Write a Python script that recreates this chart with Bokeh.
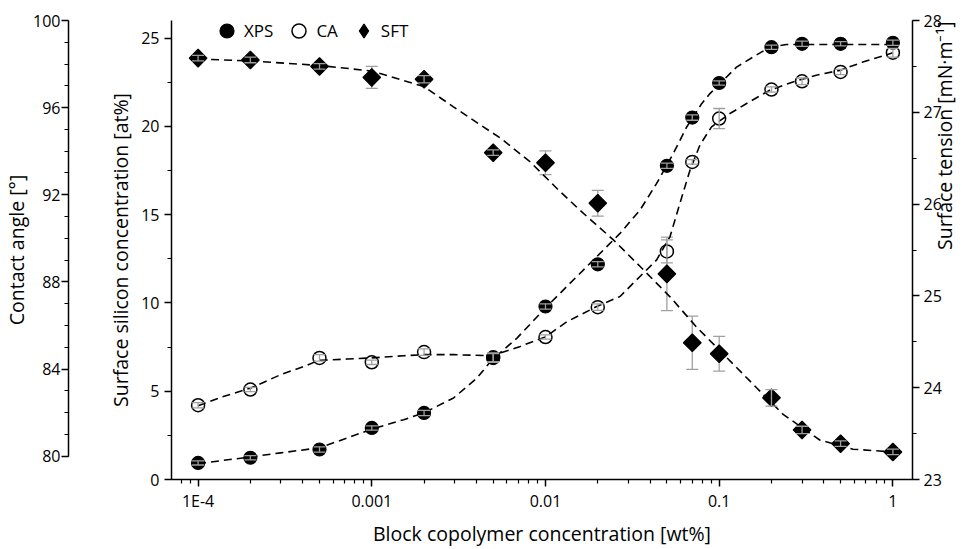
import math
from bokeh.plotting import figure
from bokeh.models import (Range1d, LinearAxis, FixedTicker, SingleIntervalTicker,
                          ColumnDataSource, Whisker, TeeHead, Legend, LegendItem)
from bokeh.embed import file_html
from bokeh.resources import INLINE

# ---------------- data ----------------
conc = [1e-4, 2e-4, 5e-4, 1e-3, 2e-3, 5e-3, 1e-2, 2e-2, 5e-2, 7e-2, 0.1, 0.2, 0.3, 0.5, 1.0]

xps = [0.94, 1.23, 1.70, 2.92, 3.77, 6.88, 9.80, 12.19, 17.77, 20.50, 22.46, 24.49, 24.68, 24.68, 24.74]
xps_err = [0.12, 0.12, 0.15, 0.12, 0.15, 0.25, 0.15, 0.15, 0.15, 0.15, 0.12, 0.12, 0.15, 0.12, 0.15]

ca = [82.34, 83.06, 84.51, 84.31, 84.78, 84.54, 85.47, 86.84, 89.40, 93.51, 95.50, 96.83, 97.21, 97.64, 98.52]
ca_err = [0.12, 0.10, 0.15, 0.10, 0.15, 0.20, 0.10, 0.15, 0.53, 0.10, 0.46, 0.12, 0.15, 0.12, 0.20]

sft = [27.59, 27.57, 27.50, 27.38, 27.36, 26.56, 26.45, 26.01, 25.24, 24.49, 24.37, 23.89, 23.54, 23.39, 23.30]
sft_err = [0.03, 0.03, 0.03, 0.12, 0.04, 0.03, 0.13, 0.14, 0.40, 0.29, 0.19, 0.09, 0.04, 0.03, 0.03]

# fitted dashed curves (x as log10 of concentration)
xps_fit_logx = [-4.0, -3.697, -3.525, -3.305, -3.141, -3.007, -2.816, -2.701, -2.529, -2.394,
                -2.308, -2.164, -1.992, -1.858, -1.705, -1.571, -1.456, -1.360, -1.264, -1.187,
                -1.101, -1.053, -0.900, -0.805, -0.709, -0.613, -0.460, -0.230, 0.0]
xps_fit_y = [0.90, 1.28, 1.51, 1.79, 2.35, 2.83, 3.39, 3.77, 4.62, 5.75,
             6.78, 8.01, 9.80, 11.12, 12.62, 13.94, 15.26, 16.77, 18.47, 19.97,
             21.29, 21.86, 23.36, 23.93, 24.49, 24.64, 24.64, 24.64, 24.64]

ca_fit_logx = [-4.0, -3.850, -3.697, -3.525, -3.391, -3.305, -3.141, -3.007, -2.816, -2.701,
               -2.529, -2.308, -2.145, -2.0, -1.877, -1.705, -1.571, -1.456, -1.360, -1.283,
               -1.226, -1.168, -1.111, -1.044, -0.938, -0.842, -0.709, -0.575, -0.441, -0.307,
               -0.173, 0.0]
ca_fit_y = [82.32, 82.75, 83.13, 83.74, 84.12, 84.40, 84.46, 84.51, 84.61, 84.66,
            84.66, 84.61, 85.04, 85.48, 86.17, 86.87, 87.33, 88.25, 89.01, 90.08,
            91.61, 93.13, 94.28, 95.12, 95.73, 96.19, 96.80, 97.18, 97.49, 97.71,
            98.09, 98.52]

sft_fit_logx = [-4.0, -3.699, -3.301, -3.0, -2.70, -2.53, -2.317, -2.26, -2.088, -1.934,
                -1.80, -1.609, -1.455, -1.283, -1.13, -0.90, -0.785, -0.632, -0.421, -0.23,
                -0.076, 0.0]
sft_fit_y = [27.58, 27.56, 27.51, 27.45, 27.28, 27.06, 26.79, 26.72, 26.46, 26.17,
             25.93, 25.61, 25.32, 24.99, 24.66, 24.22, 24.00, 23.71, 23.43, 23.33,
             23.31, 23.30]

x_major = [1e-4, 1e-3, 1e-2, 1e-1, 1.0]
x_labels = ["1E-4", "0.001", "0.01", "0.1", "1"]

series_names = ["XPS", "CA", "SFT"]

# ---------------- figure ----------------
FONT = "Open Sans"
TICK_FS = "16px"
TITLE_FS = "19.5px"

p = figure(width=974, height=549, x_axis_type="log",
           x_range=Range1d(7.03e-5, 1.297), y_range=Range1d(0, 26),
           output_backend="svg", toolbar_location=None,
           min_border_top=20, min_border_bottom=69, min_border_right=61, min_border_left=171)
p.outline_line_color = None
p.xgrid.visible = False
p.ygrid.visible = False
p.extra_y_ranges = {"ca": Range1d(78.93, 100.0), "sft": Range1d(23, 28)}

def style_axis(ax):
    ax.axis_line_color = "black"
    ax.axis_line_width = 1.5
    ax.major_tick_line_color = "black"
    ax.major_tick_line_width = 1.5
    ax.minor_tick_line_color = "black"
    ax.minor_tick_line_width = 1.2
    ax.major_tick_in = 0
    ax.major_tick_out = 7
    ax.minor_tick_in = 0
    ax.minor_tick_out = 4
    ax.major_label_text_font = FONT
    ax.major_label_text_font_size = TICK_FS
    ax.major_label_text_color = "black"
    ax.axis_label_text_font = FONT
    ax.axis_label_text_font_size = TITLE_FS
    ax.axis_label_text_font_style = "normal"
    ax.axis_label_text_color = "black"

# x axis
xax = p.xaxis[0]
style_axis(xax)
minors = [m * 10.0 ** e for e in range(-5, 1) for m in range(2, 10)]
xax.ticker = FixedTicker(ticks=x_major, minor_ticks=minors)
xax.major_label_overrides = {v: s for v, s in zip(x_major, x_labels)}
xax.axis_label = "Block copolymer concentration [wt%]"
xax.major_label_standoff = 3
xax.axis_label_standoff = 5

# inner left axis (silicon)
yax = p.yaxis[0]
style_axis(yax)
yax.ticker = SingleIntervalTicker(interval=5, num_minor_ticks=2)
yax.axis_label = "Surface silicon concentration [at%]"
yax.major_label_standoff = 5
yax.axis_label_standoff = 4

# blank spacer between the two left axes
spacer = LinearAxis(ticker=FixedTicker(ticks=[13]), axis_line_color=None,
                    major_tick_line_color="white", minor_tick_line_color=None,
                    major_tick_in=0, major_tick_out=36, minor_tick_out=0,
                    major_label_standoff=0, major_label_text_font_size="0px",
                    major_label_overrides={13: ""})
p.add_layout(spacer, "left")

# outer left axis (contact angle)
cax = LinearAxis(y_range_name="ca", bounds=(80, 100))
style_axis(cax)
cax.ticker = SingleIntervalTicker(interval=4, num_minor_ticks=4)
cax.axis_label = "Contact angle [°]"
cax.axis_label_text_line_height = 0.85
cax.major_label_standoff = 1
cax.axis_label_standoff = 0
p.add_layout(cax, "left")

# right axis (surface tension)
rax = LinearAxis(y_range_name="sft")
style_axis(rax)
rax.ticker = SingleIntervalTicker(interval=1, num_minor_ticks=2)
rax.axis_label = "Surface tension [mN·m⁻¹]"
rax.axis_label_orientation = math.pi / 2
rax.axis_label_text_line_height = 0.9
rax.major_label_standoff = 4
rax.axis_label_standoff = 0
p.add_layout(rax, "right")

# ---------------- fitted curves ----------------
dash = "8 5"
p.line([10 ** v for v in xps_fit_logx], xps_fit_y, line_color="black", line_width=1.6, line_dash=dash)
p.line([10 ** v for v in ca_fit_logx], ca_fit_y, line_color="black", line_width=1.6, line_dash=dash,
       y_range_name="ca")
p.line([10 ** v for v in sft_fit_logx], sft_fit_y, line_color="black", line_width=1.6, line_dash=dash,
       y_range_name="sft")

# ---------------- error bars + markers ----------------
grey = "#a0a0a0"

def whisker(xs, ys, errs, rng, level):
    if not xs:
        return
    src = ColumnDataSource(dict(x=xs, lo=[a - b for a, b in zip(ys, errs)],
                                hi=[a + b for a, b in zip(ys, errs)]))
    w = Whisker(source=src, base="x", lower="lo", upper="hi", dimension="height",
                line_color=grey, line_width=1.3, level=level,
                upper_head=TeeHead(size=12, line_color=grey, line_width=1.3),
                lower_head=TeeHead(size=12, line_color=grey, line_width=1.3))
    if rng is not None:
        w.y_range_name = rng
    p.add_layout(w)

# large SFT error bars sit behind the solid diamonds, small ones show through
big = [i for i, e in enumerate(sft_err) if e >= 0.1]
small = [i for i, e in enumerate(sft_err) if e < 0.1]
whisker([conc[i] for i in big], [sft[i] for i in big], [sft_err[i] for i in big], "sft", "underlay")

# diamond glyph used for the legend entry (hidden beneath the rotated squares)
r_s_leg = p.scatter(conc, sft, marker="diamond", size=12, y_range_name="sft",
                    fill_color="black", line_color="black", line_width=1.2)

r_x = p.scatter(conc, xps, marker="circle", size=13,
                fill_color="black", line_color="black", line_width=1.2)
r_c = p.scatter(conc, ca, marker="circle", size=13, y_range_name="ca",
                fill_color=None, line_color="black", line_width=1.5)
r_s = p.scatter(conc, sft, marker="square", size=12.5, angle=math.pi / 4,
                y_range_name="sft", fill_color="black", line_color="black", line_width=1.2)

whisker(conc, xps, xps_err, None, "overlay")
whisker(conc, ca, ca_err, "ca", "overlay")
whisker([conc[i] for i in small], [sft[i] for i in small], [sft_err[i] for i in small], "sft", "overlay")

legend = Legend(items=[LegendItem(label=series_names[0], renderers=[r_x]),
                       LegendItem(label=series_names[1], renderers=[r_c]),
                       LegendItem(label=series_names[2], renderers=[r_s_leg])],
                orientation="horizontal", location=(38, 431),
                border_line_color=None, background_fill_alpha=0,
                label_text_font=FONT, label_text_font_size="17px", label_text_color="black",
                glyph_width=35, glyph_height=35, label_standoff=-2, spacing=8,
                padding=0, margin=0)
p.add_layout(legend)

open("out.html", "w").write(file_html(p, INLINE))
